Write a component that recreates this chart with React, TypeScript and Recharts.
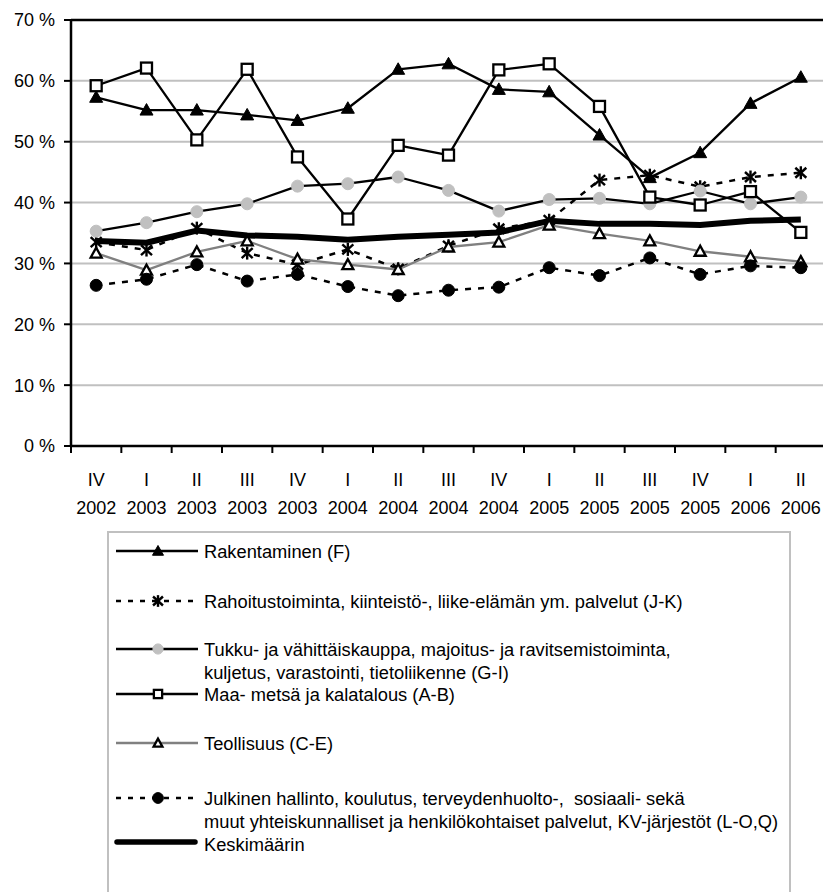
import React from 'react';
import { LineChart, Line, XAxis, YAxis, CartesianGrid, ReferenceLine, Legend } from 'recharts';

const quarters = ['IV', 'I', 'II', 'III', 'IV', 'I', 'II', 'III', 'IV', 'I', 'II', 'III', 'IV', 'I', 'II'];
const years = ['2002', '2003', '2003', '2003', '2003', '2004', '2004', '2004', '2004', '2005', '2005', '2005', '2005', '2006', '2006'];

const rakentaminen = [57.3, 55.2, 55.2, 54.4, 53.5, 55.5, 61.9, 62.8, 58.6, 58.2, 51.1, 44.1, 48.2, 56.3, 60.6];
const rahoitus = [33.5, 32.2, 35.8, 31.7, 29.8, 32.3, 29.1, 32.9, 35.7, 37.1, 43.7, 44.5, 42.6, 44.2, 44.9];
const tukku = [35.3, 36.7, 38.5, 39.8, 42.7, 43.1, 44.2, 42.0, 38.6, 40.5, 40.7, 39.8, 41.9, 39.8, 40.9];
const maa = [59.2, 62.1, 50.3, 61.9, 47.5, 37.3, 49.4, 47.8, 61.8, 62.8, 55.8, 40.9, 39.6, 41.8, 35.1];
const teollisuus = [31.7, 28.9, 31.9, 33.7, 30.7, 29.8, 29.0, 32.7, 33.5, 36.3, 34.9, 33.7, 32.0, 31.1, 30.3];
const julkinen = [26.4, 27.4, 29.8, 27.1, 28.2, 26.2, 24.7, 25.6, 26.1, 29.3, 28.0, 30.9, 28.2, 29.6, 29.3];
const keskimaarin = [33.7, 33.4, 35.4, 34.6, 34.4, 33.9, 34.4, 34.7, 35.1, 37.0, 36.5, 36.5, 36.3, 37.0, 37.2];

const yTicks = [0, 10, 20, 30, 40, 50, 60, 70];

const legendLabels: string[][] = [
  ['Rakentaminen (F)'],
  ['Rahoitustoiminta, kiinteistö-, liike-elämän ym. palvelut (J-K)'],
  ['Tukku- ja vähittäiskauppa, majoitus- ja ravitsemistoiminta,', 'kuljetus, varastointi, tietoliikenne (G-I)'],
  ['Maa- metsä ja kalatalous (A-B)'],
  ['Teollisuus (C-E)'],
  ['Julkinen hallinto, koulutus, terveydenhuolto-,  sosiaali- sekä', 'muut yhteiskunnalliset ja henkilökohtaiset palvelut, KV-järjestöt (L-O,Q)'],
  ['Keskimäärin'],
];

const FONT = '"Liberation Sans", Arial, sans-serif';
const FS = 18.3;
const FS_AX = 18;

const data = quarters.map((q, i) => ({
  x: i,
  rakentaminen: rakentaminen[i],
  rahoitus: rahoitus[i],
  tukku: tukku[i],
  maa: maa[i],
  teollisuus: teollisuus[i],
  julkinen: julkinen[i],
  keskimaarin: keskimaarin[i],
}));

const boundaryTicks = [...quarters.map((_, i) => i - 0.5), quarters.length - 0.5];
const centerTicks = quarters.map((_, i) => i);

// marker shapes (k = scale)
const triFilled = (cx: number, cy: number, k = 1) => (
  <polygon points={`${cx},${cy - 6.5 * k} ${cx - 6.5 * k},${cy + 5 * k} ${cx + 6.5 * k},${cy + 5 * k}`} fill="#000" stroke="#000" strokeWidth={1} />
);
const triOpen = (cx: number, cy: number, k = 1) => (
  <polygon points={`${cx},${cy - 5.5 * k} ${cx - 5.5 * k},${cy + 4.5 * k} ${cx + 5.5 * k},${cy + 4.5 * k}`} fill="#fff" stroke="#000" strokeWidth={2.3} />
);
const square = (cx: number, cy: number, k = 1) => (
  <rect x={cx - 5.5 * k} y={cy - 5.5 * k} width={11 * k} height={11 * k} fill="#fff" stroke="#000" strokeWidth={2.3} />
);
const star = (cx: number, cy: number, k = 1) => (
  <g stroke="#000" strokeWidth={2.4}>
    <line x1={cx} y1={cy - 6.5 * k} x2={cx} y2={cy + 6.5 * k} />
    <line x1={cx - 5.5 * k} y1={cy - 5 * k} x2={cx + 5.5 * k} y2={cy + 5 * k} />
    <line x1={cx - 5.5 * k} y1={cy + 5 * k} x2={cx + 5.5 * k} y2={cy - 5 * k} />
  </g>
);
const grayDot = (cx: number, cy: number, k = 1) => <circle cx={cx} cy={cy} r={6 * k} fill="#c0c0c0" stroke="#c0c0c0" />;
const blackDot = (cx: number, cy: number, k = 1) => <circle cx={cx} cy={cy} r={6 * k} fill="#000" stroke="#000" />;

type Shape = (cx: number, cy: number, k?: number) => React.ReactNode;

const makeDot = (shape: Shape) => (p: any) => {
  const { cx, cy, index } = p;
  if (cx == null || cy == null) return <g key={`d${index}`} />;
  return <g key={`d${index}`}>{shape(cx, cy)}</g>;
};

type S = { key: string; stroke: string; width: number; dash?: string; shape?: Shape; legendScale?: number };
const seriesStyles: S[] = [
  { key: 'rakentaminen', stroke: '#000', width: 2.3, shape: triFilled, legendScale: 0.85 },
  { key: 'rahoitus', stroke: '#000', width: 2.5, dash: '6 7', shape: star, legendScale: 0.9 },
  { key: 'tukku', stroke: '#000', width: 2.3, shape: grayDot, legendScale: 0.85 },
  { key: 'maa', stroke: '#000', width: 2.3, shape: square, legendScale: 0.75 },
  { key: 'teollisuus', stroke: '#808080', width: 2.3, shape: triOpen, legendScale: 0.8 },
  { key: 'julkinen', stroke: '#000', width: 2.5, dash: '6 7', shape: blackDot, legendScale: 0.9 },
  { key: 'keskimaarin', stroke: '#000', width: 6 },
];

// legend layout (px inside the legend box)
const legendRowY = [18, 68, 116, 161, 210, 265, 309];
const legendLineGap = 23.5;

const XTick = (props: any) => {
  const { x, y, payload } = props;
  const i = payload.value as number;
  return (
    <g>
      <text x={x} y={y + 24} textAnchor="middle" dominantBaseline="central" fill="#000" fontSize={FS_AX} fontFamily={FONT}>
        {quarters[i]}
      </text>
      <text x={x} y={y + 52} textAnchor="middle" dominantBaseline="central" fill="#000" fontSize={FS_AX} fontFamily={FONT}>
        {years[i]}
      </text>
    </g>
  );
};

const LegendBox = () => (
  <div style={{ width: 684, height: 380, border: '2px solid #c0c0c0', background: '#fff', boxSizing: 'border-box' }}>
    <svg width={680} height={376}>
      {seriesStyles.map((s, i) => {
        const y = legendRowY[i];
        return (
          <g key={s.key}>
            {s.key === 'keskimaarin' ? (
              <line x1={8} y1={y} x2={86} y2={y} stroke="#000" strokeWidth={5.5} strokeLinecap="round" />
            ) : (
              <line x1={7} y1={y} x2={89} y2={y} stroke={s.stroke} strokeWidth={2.3} strokeDasharray={s.dash ? '5 7' : undefined} />
            )}
            {s.shape ? s.shape(49, y, s.legendScale) : null}
            {legendLabels[i].map((t, j) => (
              <text
                key={j}
                x={95}
                y={y + j * legendLineGap + (s.key === 'keskimaarin' ? 2 : 0)}
                dominantBaseline="central"
                fill="#000"
                fontSize={FS}
                fontFamily={FONT}
                style={{ whiteSpace: 'pre' }}
              >
                {t}
              </text>
            ))}
          </g>
        );
      })}
    </svg>
  </div>
);

export default function App() {
  return (
    <div style={{ position: 'absolute', left: 0, top: 0, width: 823, height: 892, overflow: 'hidden', background: '#fff' }}>
      <LineChart width={826} height={892} data={data} margin={{ top: 20, right: 0, left: 0, bottom: 356 }}>
        <CartesianGrid xAxisId="b" vertical={false} stroke="#c0c0c0" strokeWidth={2} />
        <XAxis
          xAxisId="b"
          type="number"
          dataKey="x"
          domain={[-0.5, quarters.length - 0.5]}
          ticks={boundaryTicks}
          interval={0}
          height={10}
          tickSize={7}
          tick={() => <g />}
          axisLine={{ stroke: '#000', strokeWidth: 2.5 }}
          tickLine={{ stroke: '#000', strokeWidth: 2 }}
        />
        <XAxis
          xAxisId="l"
          type="number"
          dataKey="x"
          domain={[-0.5, quarters.length - 0.5]}
          ticks={centerTicks}
          interval={0}
          height={80}
          tickSize={0}
          tickMargin={0}
          axisLine={false}
          tickLine={false}
          tick={XTick}
        />
        <YAxis
          type="number"
          domain={[0, 70]}
          ticks={yTicks}
          interval={0}
          width={71}
          tickSize={7}
          tickMargin={9}
          tickFormatter={(v: number) => `${v} %`}
          axisLine={{ stroke: '#000', strokeWidth: 2.5 }}
          tickLine={{ stroke: '#000', strokeWidth: 2 }}
          tick={{ fill: '#000', fontSize: FS_AX, fontFamily: FONT }}
        />
        <ReferenceLine xAxisId="b" y={70} stroke="#000" strokeWidth={2.5} />
        {seriesStyles.map((s) => (
          <Line
            key={s.key}
            xAxisId="b"
            type="linear"
            dataKey={s.key}
            stroke={s.stroke}
            strokeWidth={s.width}
            strokeDasharray={s.dash}
            dot={s.shape ? makeDot(s.shape) : false}
            activeDot={false}
            isAnimationActive={false}
            strokeLinejoin="round"
          />
        ))}
        <Legend
          layout="horizontal"
          verticalAlign="middle"
          align="center"
          wrapperStyle={{ left: 107, top: 531, width: 684 }}
          content={() => <LegendBox />}
        />
      </LineChart>
    </div>
  );
}
